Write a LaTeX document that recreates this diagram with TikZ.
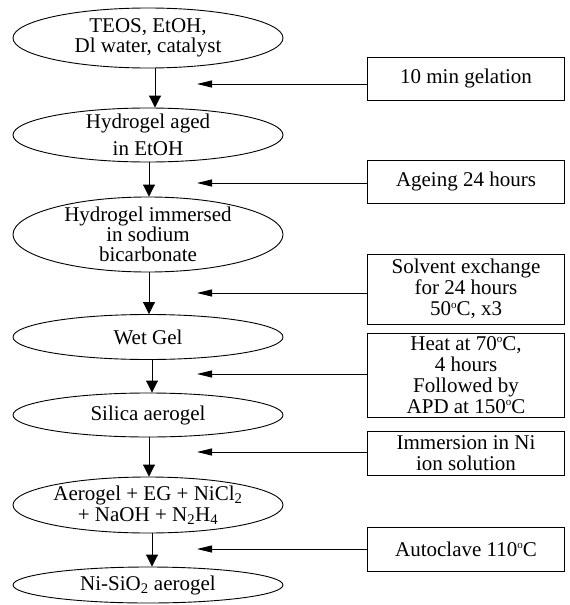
\documentclass[tikz,border=0pt]{standalone}
\usepackage{fontspec}
\setmainfont{Liberation Serif}
\usetikzlibrary{shapes.geometric}
\usetikzlibrary{arrows.meta}

\newcommand{\dg}{\raisebox{0.36em}{\fontsize{11}{11}\selectfont o}}

\begin{document}
\begin{tikzpicture}[x=1pt,y=-1pt]
    \tikzset{
      stage/.style={
        ellipse,
        minimum width=270pt,
        inner xsep=0pt,
        inner ysep=-6pt,
        align=center,
        font=\fontsize{21}{21}\selectfont,
        line width=0.9pt,
        draw
      },
      cond/.style={
        rectangle,
        minimum width=197pt,
        inner sep=0pt,
        align=center,
        font=\fontsize{21}{21}\selectfont,
        line width=0.9pt,
        draw
      },
      down/.style={-{Triangle[length=12pt,width=12pt]}, line width=0.9pt},
      feed/.style={-{Triangle[length=15pt,width=7pt]}, line width=0.9pt}
    }
    \useasboundingbox (0,0) rectangle (570,605);

    %Stage nodes
    \node[stage,minimum height=60pt] at (148,38) (s1) {TEOS, EtOH,\\[-1pt] Dl water, catalyst};
    \node[stage,minimum height=54pt] at (148,135) (s2) {Hydrogel aged\\[6pt] in EtOH};
    \node[stage,minimum height=75pt] at (148,234.5) (s3) {Hydrogel immersed\\[-1pt] in sodium\\[-1pt] bicarbonate};
    \node[stage,minimum height=45pt] at (148,337) (s4) {Wet Gel};
    \node[stage,minimum height=44pt] at (148,415) (s5) {Silica aerogel};
    \node[stage,minimum height=56pt] at (148,505) (s6) {Aerogel + EG + NiCl\textsubscript{2}\\ + NaOH + N\textsubscript{2}H\textsubscript{4}};
    \node[stage,minimum height=36pt] at (148,585) (s7) {Ni-SiO\textsubscript{2} aerogel};

    %Condition boxes
    \node[cond,minimum height=43pt] at (466,78.5) (c1) {10 min gelation};
    \node[cond,minimum height=43pt] at (466,181.5) (c2) {Ageing 24 hours};
    \node[cond,minimum height=70pt] at (466,289) (c3) {Solvent exchange\\ for 24 hours\\ 50\dg C, x3};
    \node[cond,minimum height=84pt] at (466,375) (c4) {Heat at 70\dg C,\\ 4 hours\\ Followed by\\ APD at 150\dg C};
    \node[cond,minimum height=44pt] at (466,453) (c5) {Immersion in Ni\\ ion solution};
    \node[cond,minimum height=44pt] at (466,549) (c6) {Autoclave 110\dg C};

    %Free ends of the side arrows
    \coordinate (f1) at (197,84);
    \coordinate (f2) at (197,183);
    \coordinate (f3) at (197,293);
    \coordinate (f4) at (197,374);
    \coordinate (f5) at (197,452);
    \coordinate (f6) at (197,549);

    %Down arrows
    \draw[down] ([xshift=7pt]s1.south) -- ([xshift=7pt]s2.north);
    \draw[down] ([xshift=1pt]s2.south) -- ([xshift=1pt]s3.north);
    \draw[down] ([xshift=1pt]s3.south) -- ([xshift=1pt]s4.north);
    \draw[down] ([xshift=4pt]s4.south) -- ([xshift=4pt]s5.north);
    \draw[down] ([xshift=1pt]s5.south) -- ([xshift=1pt]s6.north);
    \draw[down] ([xshift=4pt]s6.south) -- ([xshift=4pt]s7.north);

    %Side arrows
    \draw[feed] (c1.west |- f1) -- (f1);
    \draw[feed] (c2.west |- f2) -- (f2);
    \draw[feed] (c3.west |- f3) -- (f3);
    \draw[feed] (c4.west |- f4) -- (f4);
    \draw[feed] (c5.west |- f5) -- (f5);
    \draw[feed] (c6.west |- f6) -- (f6);
  \end{tikzpicture}
\end{document}
